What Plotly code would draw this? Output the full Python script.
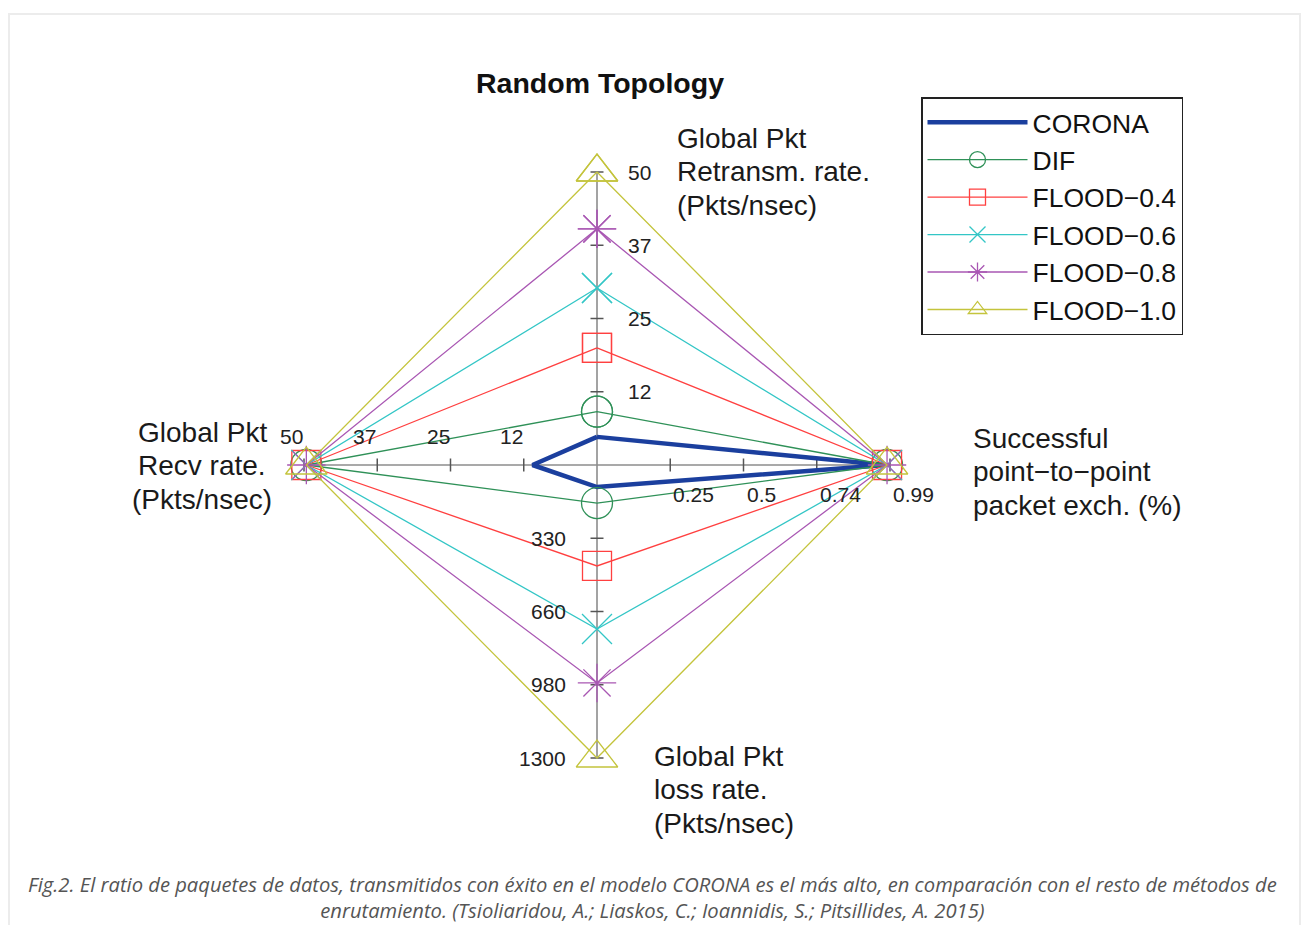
import plotly.graph_objects as go

# ---------------- data ----------------
title_retx = ["Global Pkt", "Retransm. rate.", "(Pkts/nsec)"]
title_succ = ["Successful", "point−to−point", "packet exch. (%)"]
title_loss = ["Global Pkt", "loss rate.", "(Pkts/nsec)"]
title_recv = ["Global Pkt", "Recv rate.", "(Pkts/nsec)"]
axis_max = [50, 0.99, 1300, 50]
tick_fracs = [0.25, 0.5, 0.75, 1.0]
ticks_retx = ["12", "25", "37", "50"]
ticks_succ = ["0.25", "0.5", "0.74", "0.99"]
ticks_loss = ["330", "660", "980", "1300"]
ticks_recv = ["12", "25", "37", "50"]

series_names = ["CORONA", "DIF", "FLOOD−0.4", "FLOOD−0.6", "FLOOD−0.8", "FLOOD−1.0"]
# values: [retransm rate, successful p2p, loss rate, recv rate]
corona = [4.8, 0.975, 98, 11]
dif = [9.1, 0.98, 169, 49.6]
flood_04 = [20.0, 0.98, 448, 49.6]
flood_06 = [30.2, 0.98, 728, 49.6]
flood_08 = [40.3, 0.98, 967, 49.6]
flood_10 = [50.0, 0.98, 1300, 49.6]
series_values = [corona, dif, flood_04, flood_06, flood_08, flood_10]

chart_title = "Random Topology"
caption_lines = [
    "Fig.2. El ratio de paquetes de datos, transmitidos con éxito en el modelo CORONA es el más alto, en comparación con el resto de métodos de",
    "enrutamiento. (Tsioliaridou, A.; Liaskos, C.; Ioannidis, S.; Pitsillides, A. 2015)",
]

# ---------------- styles ----------------
colors = ["#1b3f9e", "#2f9158", "#ff4040", "#33c6c6", "#a957b3", "#c4c43c"]
symbols = [None, "circle-open", "square-open", "x-thin-open", "asterisk-open", "triangle-up-open"]
msizes = [0, 31, 29, 30, 32, 36]
FONT = "Liberation Sans, Arial, sans-serif"

W, H = 1303, 925
CX, CY, R = 597, 465, 293  # centre pixel and radius in px
dirs = [(0, 1), (1, 0), (0, -1), (-1, 0)]  # up, right, down, left


def to_xy(vals):
    xs, ys = [], []
    for v, m, (dx, dy) in zip(vals, axis_max, dirs):
        f = v / m
        xs.append(dx * f)
        ys.append(dy * f)
    return xs + xs[:1], ys + ys[:1]


fig = go.Figure()

# axes lines
ax_x, ax_y = [], []
for dx, dy in dirs:
    ax_x += [0, dx, None]
    ax_y += [0, dy, None]
fig.add_trace(go.Scatter(x=ax_x, y=ax_y, mode="lines", line=dict(color="#8c8c8c", width=1.6),
                         showlegend=False, hoverinfo="skip"))

# tick marks
tl = 6.5 / R
tk_x, tk_y = [], []
for dx, dy in dirs:
    for f in tick_fracs:
        px, py = dx * f, dy * f
        tk_x += [px - dy * tl, px + dy * tl, None]
        tk_y += [py - dx * tl, py + dx * tl, None]
fig.add_trace(go.Scatter(x=tk_x, y=tk_y, mode="lines", line=dict(color="#555555", width=1.5),
                         showlegend=False, hoverinfo="skip"))

# series
for name, vals, col, sym, ms in zip(series_names, series_values, colors, symbols, msizes):
    xs, ys = to_xy(vals)
    if sym is None:
        fig.add_trace(go.Scatter(x=xs, y=ys, mode="lines", name=name,
                                 line=dict(color=col, width=4.5)))
    else:
        fig.add_trace(go.Scatter(x=xs, y=ys, mode="lines+markers", name=name,
                                 line=dict(color=col, width=1.3),
                                 marker=dict(symbol=sym, size=ms, color=col,
                                             line=dict(color=col, width=1.3))))

# tick labels
tick_sets = [ticks_retx, ticks_succ, ticks_loss, ticks_recv]
label_pos = [
    dict(xanchor="left", yanchor="middle", xshift=29, yshift=0),
    dict(xanchor="left", yanchor="middle", xshift=1, yshift=-29),
    dict(xanchor="right", yanchor="middle", xshift=-29, yshift=0),
    dict(xanchor="right", yanchor="middle", xshift=1, yshift=29),
]
annotations = []
for (dx, dy), labels, lp in zip(dirs, tick_sets, label_pos):
    for f, lab in zip(tick_fracs, labels):
        annotations.append(dict(x=dx * f, y=dy * f, xref="x", yref="y", text=lab, showarrow=False,
                                font=dict(family=FONT, size=21, color="#222222"), **lp))

# axis titles (one annotation per line for tight line spacing)
title_sets = [title_retx, title_succ, title_loss, title_recv]
title_pos = [
    dict(xanchor="left", xshift=78, y0=34),
    dict(xanchor="left", xshift=81, y0=27),
    dict(xanchor="left", xshift=55, y0=2),
    dict(xanchor="center", xshift=-102, y0=33),
]
LINE = 33.5
for (dx, dy), lines, tp in zip(dirs, title_sets, title_pos):
    for i, line in enumerate(lines):
        annotations.append(dict(x=dx, y=dy, xref="x", yref="y", text=line, showarrow=False,
                                xanchor=tp["xanchor"], yanchor="middle",
                                xshift=tp["xshift"], yshift=tp["y0"] - i * LINE,
                                font=dict(family=FONT, size=28, color="#1a1a1a")))

# chart title
annotations.append(dict(x=600 / W, y=1 - 83 / H, xref="paper", yref="paper",
                        text="<b>" + chart_title + "</b>", showarrow=False,
                        xanchor="center", yanchor="middle",
                        font=dict(family=FONT, size=28.5, color="#111111")))

# caption (single two-line text)
annotations.append(dict(x=652 / W, y=1 - 897 / H, xref="paper", yref="paper",
                        text="<i>" + "<br>".join(caption_lines) + "</i>", showarrow=False,
                        xanchor="center", yanchor="middle", align="center",
                        font=dict(family="Open Sans, sans-serif", size=20.2, color="#555555")))

shapes = [dict(type="rect", xref="paper", yref="paper", x0=9 / W, x1=1300 / W, y0=-0.01, y1=1 - 14 / H,
               line=dict(color="#ececec", width=2), fillcolor="rgba(0,0,0,0)", layer="below")]

fig.update_layout(
    width=W, height=H,
    margin=dict(l=0, r=0, t=0, b=0),
    paper_bgcolor="white", plot_bgcolor="white",
    xaxis=dict(range=[-CX / R, (W - CX) / R], visible=False, fixedrange=True),
    yaxis=dict(range=[-(H - CY) / R, CY / R], visible=False, fixedrange=True),
    showlegend=True,
    legend=dict(x=921 / W, y=1 - 97 / H, xanchor="left", yanchor="top",
                bordercolor="#222222", borderwidth=1.5, bgcolor="white",
                font=dict(family=FONT, size=26.5, color="#111111"),
                itemwidth=100, itemsizing="trace", tracegroupgap=0),
    annotations=annotations,
    shapes=shapes,
)

fig.write_html("out.html", config={"displayModeBar": False},
               post_script="document.body.style.margin='0';")
